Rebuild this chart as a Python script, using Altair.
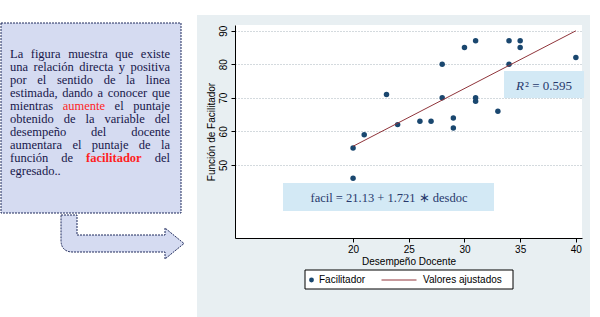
import altair as alt
import pandas as pd

# ---------------- data ----------------
desempeno = [20, 20, 21, 23, 24, 26, 27, 28, 28, 29, 29, 30, 31, 31, 31, 33, 34, 34, 35, 35, 40]
facilitador = [55, 46, 59, 71, 62, 63, 63, 80, 70, 64, 61, 85, 87, 70, 69, 66, 87, 80, 87, 85, 82]
fit_x = [20, 40]
fit_y = [55.55, 89.97]
x_ticks = [20, 25, 30, 35, 40]
y_ticks = [50, 60, 70, 80, 90]
legend_labels = ["Facilitador", "Valores ajustados"]
x_title = "Desempeño Docente"
y_title = "Función de Facilitador"
equation = "facil = 21.13 + 1.721 ∗ desdoc"
r2_symbol = "R"
r2_rest = "² = 0.595"
note_lines = [
    "La figura muestra que existe",
    "una relación directa y positiva",
    "por el sentido de la linea",
    "estimada, dando a conocer que",
    "mientras aumente el puntaje",
    "obtenido de la variable del",
    "desempeño del docente",
    "aumentara el puntaje de la",
    "función de facilitador del",
    "egresado..",
]
highlight = {(4, "aumente"): "regular", (8, "facilitador"): "bold"}

# ---------------- layout ----------------
W, H = 347, 213
OX, OY = 235, 25  # plot origin on page

NAVY = "#1a476f"
MAROON = "#90353b"
DOTBG = "#e8eff2"
BOXBLUE = "#d3e9f5"
NOTEBLUE = "#d5dbf1"
TEXTNAVY = "#17174a"

REG = {' ': 250, ',': 250, '.': 250, 'L': 611, 'a': 444, 'b': 500, 'c': 444, 'd': 500, 'e': 444,
       'f': 333, 'g': 500, 'h': 500, 'i': 278, 'j': 278, 'k': 500, 'l': 278, 'm': 778, 'n': 500,
       'o': 500, 'p': 500, 'q': 500, 'r': 333, 's': 389, 't': 278, 'u': 500, 'v': 500, 'w': 722,
       'x': 500, 'y': 500, 'z': 444, 'ó': 500, 'ñ': 500, 'é': 444}
BOLD = {'a': 500, 'c': 444, 'd': 556, 'f': 333, 'i': 278, 'l': 278, 'o': 500, 'r': 444, 't': 333}

FS = 12.5
LEFT, RIGHT = 10, 170
Y0, LH = 53.5, 13.0
rows = []
for i, line in enumerate(note_lines):
    words = line.split()
    styles = [highlight.get((i, w), "plain") for w in words]
    widths = [sum((BOLD if s == "bold" else REG).get(ch, 500) for ch in w) * FS / 1000
              for w, s in zip(words, styles)]
    if i == len(note_lines) - 1 or len(words) == 1:
        gap = 250 * FS / 1000
    else:
        gap = (RIGHT - LEFT - sum(widths)) / (len(words) - 1)
    x = LEFT
    for w, wd, s in zip(words, widths, styles):
        rows.append({"word": w, "px": x - OX, "py": Y0 + i * LH - OY,
                     "col": "#ff1f1f" if s != "plain" else TEXTNAVY,
                     "bold": s == "bold"})
        x += wd + gap
words_df = pd.DataFrame(rows)

one = pd.DataFrame({"k": [0]})

# white page regions outside the dotted chart area
covers = pd.DataFrame({
    "x": [-OX, -38, 355], "x2": [-38, 365, 365],
    "y": [-OY, -OY, -10], "y2": [292, -10, 292],
})
cover = alt.Chart(covers).mark_rect(color="white").encode(
    x=alt.X("x:Q", scale=None), x2="x2:Q", y=alt.Y("y:Q", scale=None), y2="y2:Q")

note_box = alt.Chart(one).mark_rect(fill=NOTEBLUE, stroke="#1f2a5c", strokeDash=[2, 1],
                                    strokeWidth=1).encode(
    x=alt.value(1 - OX), x2=alt.value(181 - OX), y=alt.value(23 - OY), y2=alt.value(213 - OY))

ARROW = ("M61,215 L77,215 L77,235 L165,235 L165,228 L184,243.5 L165,259 L165,252 "
         "L73,252 Q61,252 61,240 Z")
arrow = alt.Chart(one).mark_point(shape=ARROW, filled=True, fill=NOTEBLUE, stroke="#1f2a5c",
                                  strokeDash=[2, 1], strokeWidth=1, size=4, opacity=1).encode(
    x=alt.value(-OX), y=alt.value(-OY))

note_reg = alt.Chart(words_df).transform_filter("!datum.bold").mark_text(
    font="Liberation Serif", fontSize=FS, align="left", baseline="middle").encode(
    x=alt.X("px:Q", scale=None), y=alt.Y("py:Q", scale=None),
    color=alt.Color("col:N", scale=None), text="word:N")
note_bold = alt.Chart(words_df).transform_filter("datum.bold").mark_text(
    font="Liberation Serif", fontSize=FS, align="left", baseline="middle", fontWeight="bold").encode(
    x=alt.X("px:Q", scale=None), y=alt.Y("py:Q", scale=None),
    color=alt.Color("col:N", scale=None), text="word:N")

# ---------------- plot ----------------
xs = alt.Scale(domain=[9.4, 40.55], nice=False, zero=False)
ys = alt.Scale(domain=[28.2, 91.7], nice=False, zero=False)

scatter_df = pd.DataFrame({"desempeno": desempeno, "facilitador": facilitador})
fit_df = pd.DataFrame({"desempeno": fit_x, "facilitador": fit_y})

points = alt.Chart(scatter_df).mark_circle(size=30, color=NAVY, opacity=1).encode(
    x=alt.X("desempeno:Q", scale=xs, title=x_title,
            axis=alt.Axis(values=x_ticks, grid=False)),
    y=alt.Y("facilitador:Q", scale=ys, title=y_title,
            axis=alt.Axis(values=y_ticks, grid=True, gridDash=[1, 2], gridColor="#a9b4bc",
                          labelAngle=270, labelAlign="center", labelBaseline="bottom")),
)
fit = alt.Chart(fit_df).mark_line(color=MAROON, strokeWidth=1).encode(
    x=alt.X("desempeno:Q", scale=xs), y=alt.Y("facilitador:Q", scale=ys))

r2_box = alt.Chart(one).mark_rect(color=BOXBLUE).encode(
    x=alt.value(504 - OX), x2=alt.value(584 - OX), y=alt.value(71 - OY), y2=alt.value(98 - OY))
eq_box = alt.Chart(one).mark_rect(color=BOXBLUE).encode(
    x=alt.value(283 - OX), x2=alt.value(494 - OX), y=alt.value(183 - OY), y2=alt.value(211 - OY))

EQC = "#27386c"
eq_text = alt.Chart(pd.DataFrame({"t": [equation]})).mark_text(
    font="Liberation Serif", fontSize=12.5, color=EQC, align="center", baseline="middle").encode(
    x=alt.value(389 - OX), y=alt.value(197.5 - OY), text="t:N")
r2_a = alt.Chart(pd.DataFrame({"t": [r2_symbol]})).mark_text(
    font="Liberation Serif", fontSize=13, fontStyle="italic", color=EQC, align="right",
    baseline="middle").encode(x=alt.value(524 - OX), y=alt.value(85.5 - OY), text="t:N")
r2_b = alt.Chart(pd.DataFrame({"t": [r2_rest]})).mark_text(
    font="Liberation Serif", fontSize=13, color=EQC, align="left",
    baseline="middle").encode(x=alt.value(525 - OX), y=alt.value(85.5 - OY), text="t:N")

# ---------------- legend ----------------
leg_box = alt.Chart(one).mark_rect(fill="white", stroke="black", strokeWidth=1).encode(
    x=alt.value(305 - OX), x2=alt.value(513 - OX), y=alt.value(270 - OY), y2=alt.value(289 - OY))
leg_pt = alt.Chart(one).mark_circle(size=24, color=NAVY, opacity=1).encode(
    x=alt.value(311.5 - OX), y=alt.value(280 - OY))
leg_ln = alt.Chart(one).mark_rule(color=MAROON, strokeWidth=1).encode(
    x=alt.value(381.5 - OX), x2=alt.value(416.5 - OX), y=alt.value(280 - OY))
leg_t1 = alt.Chart(pd.DataFrame({"t": [legend_labels[0]]})).mark_text(
    font="Liberation Sans", fontSize=10, align="left", baseline="middle", color="black").encode(
    x=alt.value(319 - OX), y=alt.value(280 - OY), text="t:N")
leg_t2 = alt.Chart(pd.DataFrame({"t": [legend_labels[1]]})).mark_text(
    font="Liberation Sans", fontSize=10, align="left", baseline="middle", color="black").encode(
    x=alt.value(423 - OX), y=alt.value(280 - OY), text="t:N")

chart = alt.layer(
    cover, note_box, arrow, note_reg, note_bold,
    points, fit, r2_box, eq_box, eq_text, r2_a, r2_b,
    leg_box, leg_pt, leg_ln, leg_t1, leg_t2,
).properties(
    width=W, height=H,
    autosize=alt.AutoSizeParams(type="none"),
    padding={"left": OX, "top": OY, "right": 600 - OX - W, "bottom": 317 - OY - H},
    background=DOTBG,
).configure_view(
    fill="white", stroke=None,
).configure_axis(
    labelFont="Liberation Sans", labelFontSize=10, labelColor="black",
    titleFont="Liberation Sans", titleFontSize=10, titleFontWeight="normal", titleColor="black",
    domainColor="black", tickColor="black", tickSize=4, labelPadding=2, titlePadding=2,
).configure_axisY(
    labelPadding=3, titlePadding=2,
)

chart.save("out.html", embed_options={"renderer": "svg", "actions": False})
